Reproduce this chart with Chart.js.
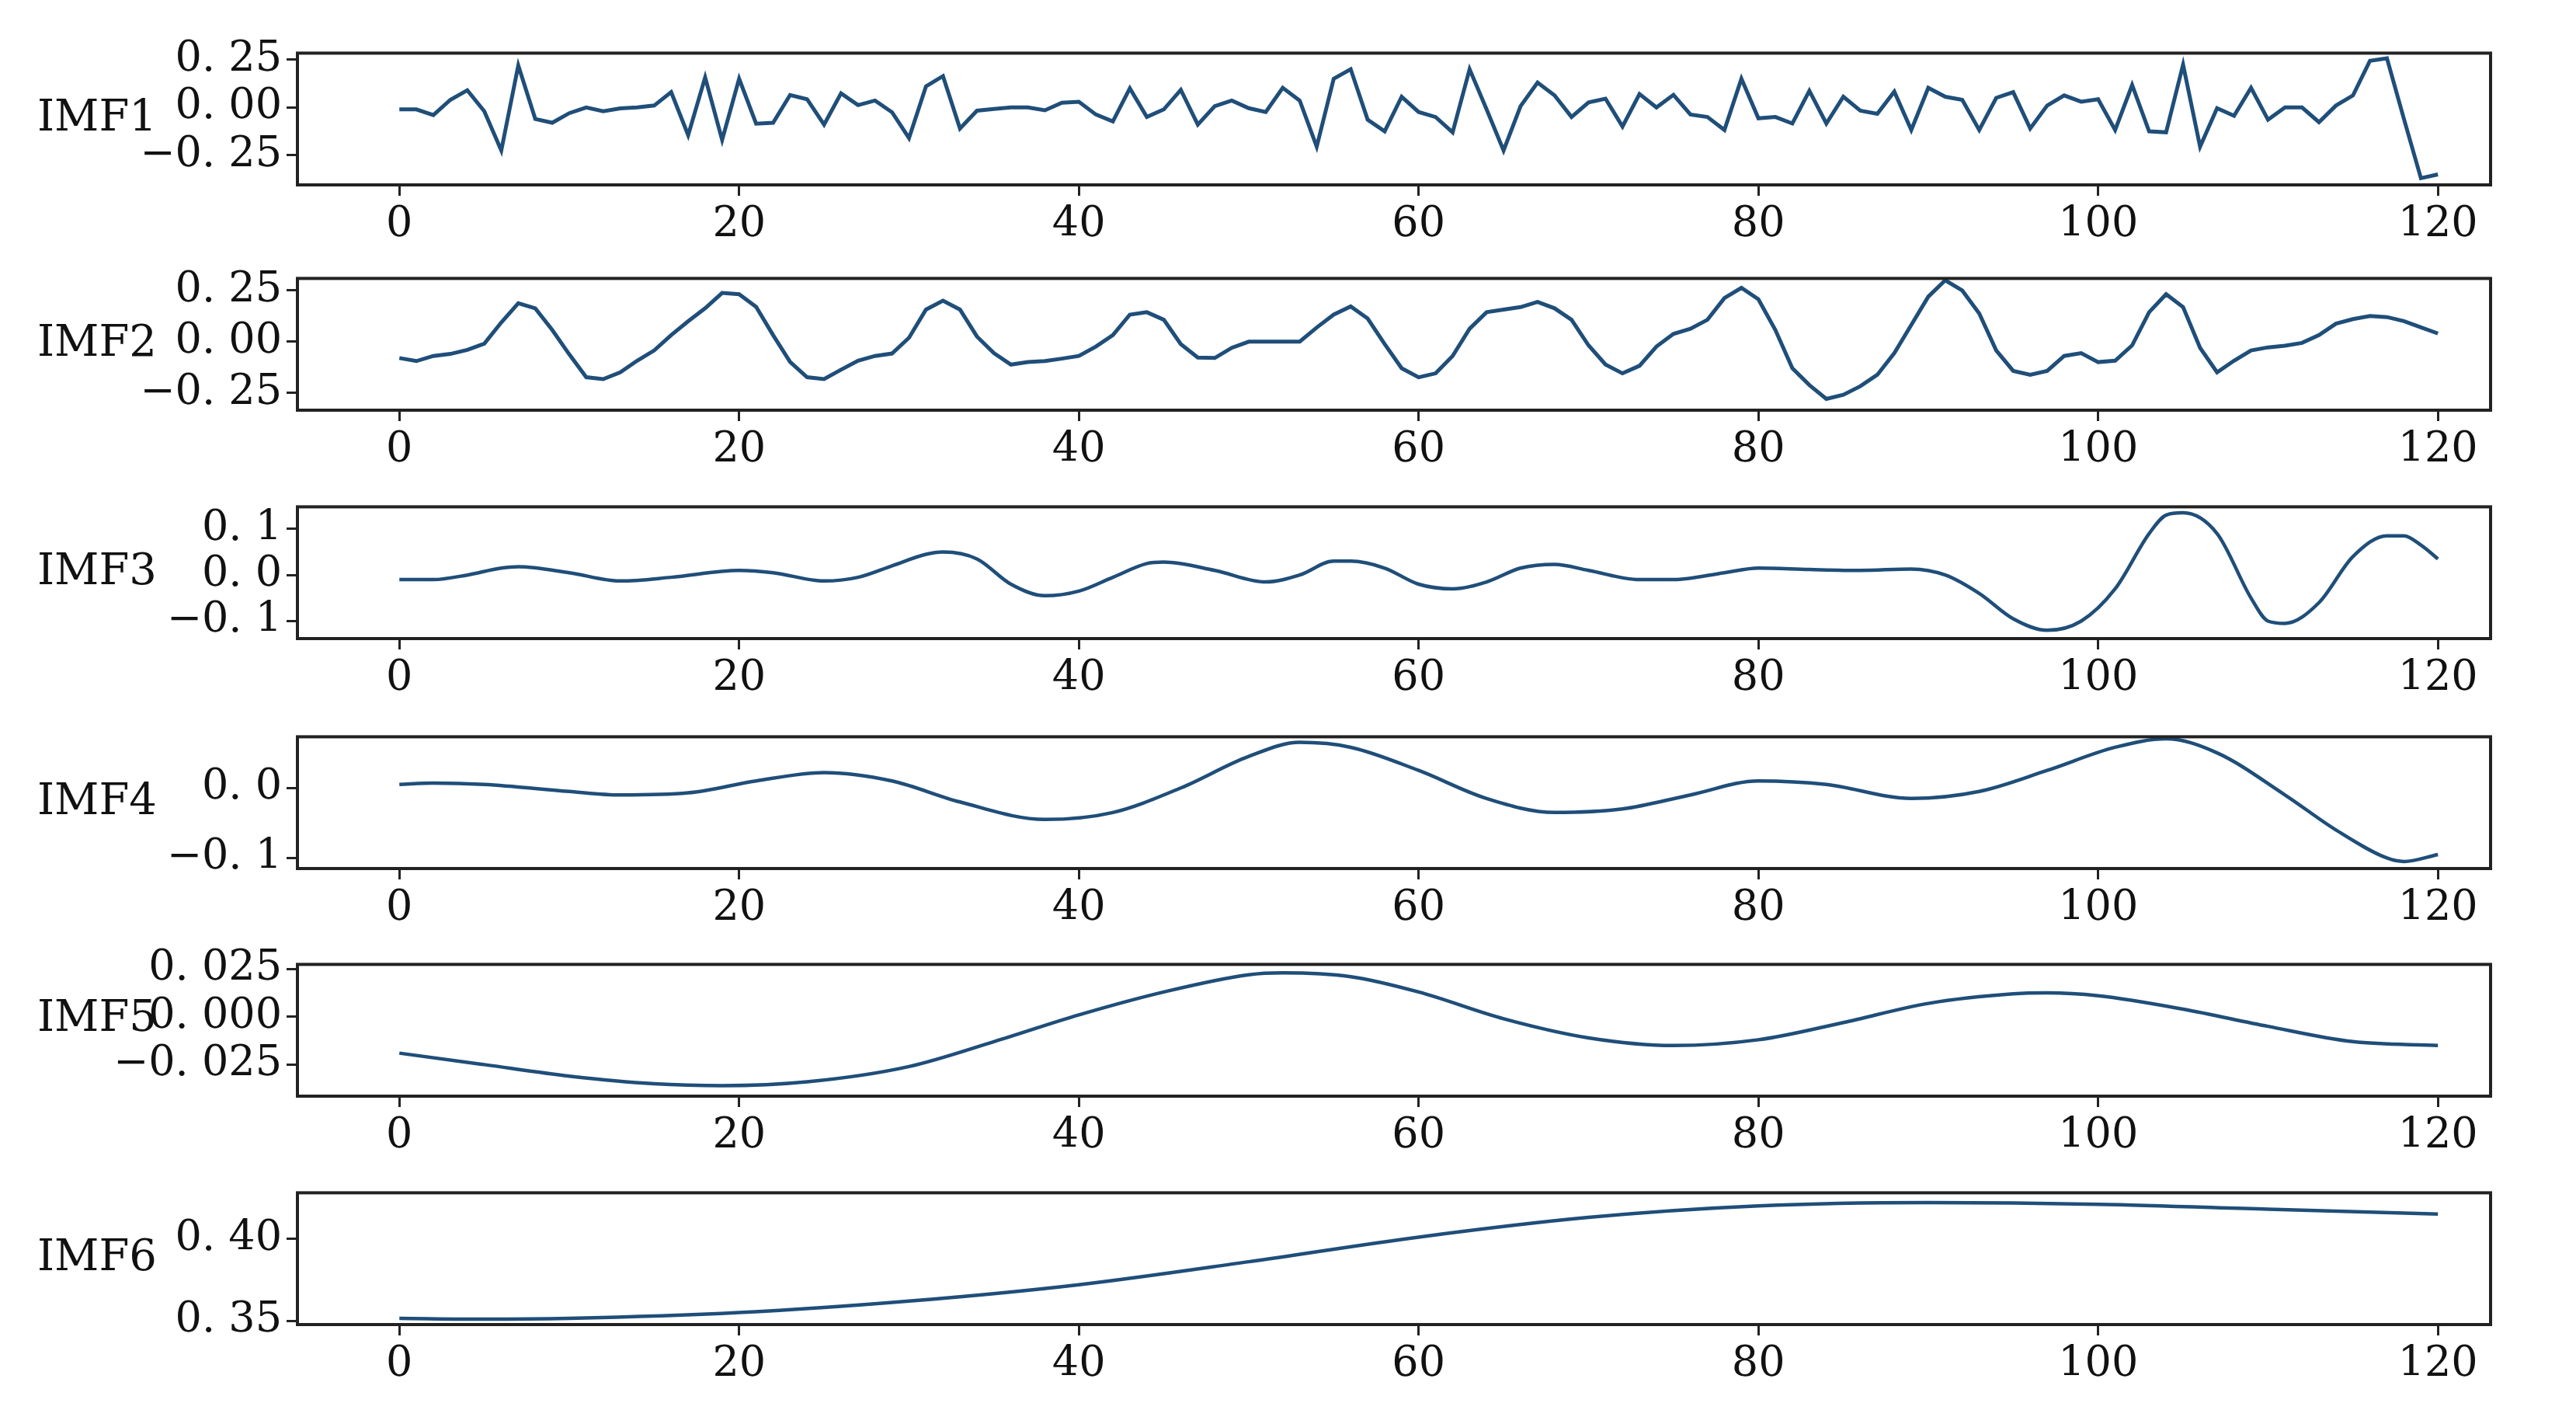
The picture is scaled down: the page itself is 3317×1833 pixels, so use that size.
<!DOCTYPE html>
<html><head><meta charset="utf-8">
<script src="https://cdn.jsdelivr.net/npm/chart.js@4"></script>
<style>body{margin:0;background:#fff;width:3317px;height:1833px;position:relative;overflow:hidden}.p{position:absolute;left:0;width:3317px;height:288px}</style>
</head><body>
<div class="p" style="top:30px"><canvas id="c0"></canvas></div>
<div class="p" style="top:320px"><canvas id="c1"></canvas></div>
<div class="p" style="top:614px"><canvas id="c2"></canvas></div>
<div class="p" style="top:910px"><canvas id="c3"></canvas></div>
<div class="p" style="top:1203px"><canvas id="c4"></canvas></div>
<div class="p" style="top:1497px"><canvas id="c5"></canvas></div>
<script>
const panelLabels=["IMF1","IMF2","IMF3","IMF4","IMF5","IMF6"];
const xTicks=[0,20,40,60,80,100,120];
const imf1=[-0.01,-0.01,-0.04,0.04,0.09,-0.02,-0.225,0.22,-0.06,-0.08,-0.03,0.0,-0.02,-0.005,0.0,0.01,0.08,-0.145,0.157,-0.17,
0.15,-0.085,-0.08,0.065,0.043,-0.09,0.074,0.012,0.036,-0.025,-0.16,0.11,0.164,-0.11,-0.017,-0.008,0,0,-0.015,0.025,
0.03,-0.037,-0.073,0.1,-0.05,-0.01,0.092,-0.09,0.007,0.036,-0.004,-0.024,0.103,0.036,-0.205,0.15,0.2,-0.064,-0.125,0.056,
-0.024,-0.05,-0.13,0.2,-0.01,-0.225,0.007,0.13,0.063,-0.05,0.026,0.046,-0.1,0.07,0,0.066,-0.037,-0.05,-0.118,0.15,
-0.057,-0.05,-0.084,0.087,-0.084,0.056,-0.017,-0.033,0.083,-0.118,0.103,0.056,0.04,-0.118,0.05,0.08,-0.11,0.01,0.063,0.03,
0.043,-0.118,0.117,-0.125,-0.13,0.224,-0.205,-0.004,-0.044,0.103,-0.064,0,0.0,-0.077,0.01,0.063,0.244,0.257,-0.06,-0.37,-0.35];
const imf2=[-0.08,-0.095,-0.07,-0.06,-0.04,-0.01,0.094,0.188,0.163,0.057,-0.062,-0.174,-0.183,-0.15,-0.093,-0.043,0.032,0.1,0.163,0.238,
0.232,0.17,0.032,-0.099,-0.174,-0.183,-0.137,-0.093,-0.07,-0.058,0.019,0.157,0.2,0.157,0.025,-0.056,-0.112,-0.1,-0.095,-0.083,
-0.07,-0.024,0.032,0.132,0.144,0.107,-0.012,-0.078,-0.08,-0.03,0,0,0,0,0.069,0.132,0.172,0.113,-0.012,-0.13,
-0.174,-0.155,-0.07,0.063,0.144,0.157,0.169,0.194,0.163,0.107,-0.018,-0.112,-0.155,-0.118,-0.024,0.038,0.063,0.107,0.213,0.263,
0.207,0.057,-0.13,-0.212,-0.28,-0.26,-0.218,-0.162,-0.056,0.082,0.22,0.3,0.25,0.138,-0.043,-0.143,-0.162,-0.143,-0.07,-0.056,
-0.1,-0.093,-0.018,0.144,0.232,0.169,-0.03,-0.15,-0.093,-0.043,-0.028,-0.02,-0.006,0.032,0.088,0.11,0.125,0.12,0.1,0.07,0.04];
const imf3X=[0,2,4,6,7,10,13,16,20,22,25,27,29,31,32,34,36,38,40,42,44,45,48,51,53,55,56,58,60,62,64,66,68,70,73,75,78,80,83,86,89,91,93,95,97,99,101,103,104,105,107,109,110,111,113,115,117,118,119,120];
const imf3Y=[-0.01,-0.01,0.0,0.015,0.018,0.005,-0.013,-0.005,0.01,0.005,-0.013,-0.005,0.02,0.045,0.05,0.035,-0.02,-0.045,-0.035,-0.005,0.025,0.028,0.01,-0.015,0.0,0.03,0.03,0.015,-0.02,-0.03,-0.015,0.015,0.023,0.01,-0.01,-0.01,0.005,0.015,0.012,0.01,0.013,0.0,-0.04,-0.095,-0.12,-0.1,-0.03,0.09,0.13,0.135,0.09,-0.05,-0.1,-0.105,-0.06,0.04,0.085,0.085,0.065,0.035];
const imf4X=[0,2,5,10,13,17,21,25,29,33,38,42,46,50,53,56,60,64,68,72,76,80,84,89,93,97,101,104,107,111,114,117,118,120];
const imf4Y=[0.005,0.007,0.005,-0.005,-0.01,-0.007,0.01,0.022,0.01,-0.02,-0.045,-0.035,0.0,0.045,0.065,0.058,0.025,-0.015,-0.035,-0.03,-0.01,0.01,0.005,-0.015,-0.005,0.025,0.058,0.07,0.05,-0.01,-0.06,-0.1,-0.105,-0.095];
const imf5X=[0,5,10,15,19,24,30,35,40,45,50,52,56,60,65,70,75,80,85,90,95,97,100,105,110,115,120];
const imf5Y=[-0.019,-0.025,-0.031,-0.035,-0.036,-0.034,-0.026,-0.013,0.001,0.013,0.022,0.023,0.021,0.013,-0.001,-0.011,-0.015,-0.012,-0.003,0.007,0.012,0.0125,0.011,0.004,-0.005,-0.013,-0.015];
const imf6X=[0,5,10,20,30,40,50,60,70,80,90,100,110,120];
const imf6Y=[0.3515,0.351,0.3515,0.355,0.362,0.372,0.386,0.401,0.413,0.42,0.422,0.421,0.418,0.415];
const yTicks=[[-0.25,0,0.25],[-0.25,0,0.25],[-0.1,0,0.1],[-0.1,0],[-0.025,0,0.025],[0.35,0.40]];
const yDec=[2,2,1,1,3,2];
const yRange=[[-0.405,0.284],[-0.335,0.309],[-0.138,0.148],[-0.115,0.073],[-0.0415,0.0274],[0.3477,0.428]];

const idx=a=>a.map((v,i)=>({x:i,y:v}));
const zip=(xs,ys)=>xs.map((x,i)=>({x:x,y:ys[i]}));
const series=[idx(imf1),idx(imf2),zip(imf3X,imf3Y),zip(imf4X,imf4Y),zip(imf5X,imf5Y),zip(imf6X,imf6Y)];
const FONT="'DejaVu Serif', serif";
const fmt=(v,d)=>{let s=Math.abs(v).toFixed(d).replace('.','. ');return (v<-1e-12?'\u2212':'')+s;};

series.forEach((data,k)=>{
  const frame={id:'frame'+k,afterDraw(c){const a=c.chartArea,x=c.ctx;x.save();x.strokeStyle='#222';x.lineWidth=4;x.strokeRect(a.left,a.top,a.right-a.left,a.bottom-a.top);
    x.fillStyle='#111';x.font="56px "+FONT;x.textAlign='left';x.textBaseline='middle';x.fillText(panelLabels[k],48,(a.top+a.bottom)/2-(k==4?14:0));x.restore();}};
  new Chart(document.getElementById('c'+k),{type:'line',
    data:{datasets:[{data:data,borderColor:'#1f4e79',borderWidth:k<2?5:4.5,pointRadius:0,fill:false,tension:0,cubicInterpolationMode:k<2?'default':'monotone'}]},
    options:{responsive:true,maintainAspectRatio:false,animation:false,devicePixelRatio:1,
      layout:{padding:{top:20,right:110,left:0,bottom:0}},
      plugins:{legend:{display:false},tooltip:{enabled:false}},
      scales:{
        x:{type:'linear',min:-6,max:123.1,afterBuildTicks:s=>{s.ticks=xTicks.map(v=>({value:v}));},
          afterFit:s=>{s.height=80;},
          grid:{drawOnChartArea:false,drawTicks:true,tickLength:14,color:'#222',lineWidth:3},border:{display:false},
          ticks:{color:'#111',font:{family:FONT,size:54},padding:6,maxRotation:0,callback:v=>String(v)}},
        y:{type:'linear',min:yRange[k][0],max:yRange[k][1],afterBuildTicks:s=>{s.ticks=yTicks[k].map(v=>({value:v}));},
          afterFit:s=>{s.width=383;},
          grid:{drawOnChartArea:false,drawTicks:true,tickLength:14,color:'#222',lineWidth:3},border:{display:false},
          ticks:{color:'#111',font:{family:FONT,size:54},padding:6,callback:v=>fmt(v,yDec[k])}}
      }},
    plugins:[frame]});
});
</script>
</body></html>
